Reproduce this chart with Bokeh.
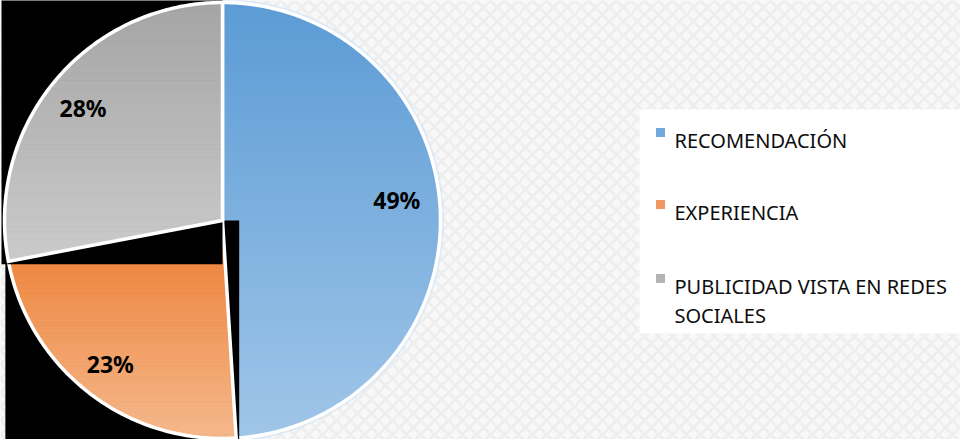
import numpy as np
from bokeh.plotting import figure
from bokeh.models import Range1d
from bokeh.core.properties import value
from bokeh.embed import file_html
from bokeh.resources import INLINE

# ---- data ----
categories = ["RECOMENDACIÓN", "EXPERIENCIA", "PUBLICIDAD VISTA EN REDES SOCIALES"]
percentages = [49, 23, 28]
legend_lines = [["RECOMENDACIÓN"], ["EXPERIENCIA"], ["PUBLICIDAD VISTA EN REDES", "SOCIALES"]]
color_top = ["#5b9bd5", "#ed7d31", "#a5a5a5"]
color_bottom = ["#a0c6e8", "#f5b88c", "#cbcbcb"]
legend_swatch = ["#72a8dc", "#f09660", "#b4b4b4"]

# ---- layout (pixel space of the figure, y downward) ----
W, H = 960, 439
CX, CY, R = 222, 220, 218
PAD = 3.0
label_radius = [0.80, 0.84, 0.83]
label_dy = [-15, -1, 3]

p = figure(width=W, height=H, output_backend="svg", toolbar_location=None,
           x_range=Range1d(0, W), y_range=Range1d(H, 0), min_border=0)
p.axis.visible = False
p.grid.visible = False
p.outline_line_color = None
p.background_fill_color = "#f6f6f6"
p.border_fill_color = "#f6f6f6"

# subtle textured background
p.quad(left=[0], right=[W], top=[0], bottom=[H], fill_color="#f8f8f8", line_color=None,
       hatch_pattern="x", hatch_color="#e8e8e8", hatch_scale=14, hatch_weight=3, hatch_alpha=0.6)


def hex2rgb(h):
    h = h.lstrip("#")
    return np.array([int(h[i:i + 2], 16) for i in (0, 2, 4)], dtype=float)


def rgb2hex(c):
    c = np.clip(np.round(c), 0, 255).astype(int)
    return "#%02x%02x%02x" % tuple(c)


def clip_half(poly, yv, keep_greater):
    out = []
    n = len(poly)
    for i in range(n):
        a = poly[i]
        b = poly[(i + 1) % n]
        ina = a[1] >= yv if keep_greater else a[1] <= yv
        inb = b[1] >= yv if keep_greater else b[1] <= yv
        if ina:
            out.append(a)
        if ina != inb:
            t = (yv - a[1]) / (b[1] - a[1])
            out.append((a[0] + t * (b[0] - a[0]), yv))
    return out


def wedge_poly(a0, a1):
    n = max(8, int(abs(a1 - a0) * 1.5))
    angs = np.radians(np.linspace(a0, a1, n))
    arc = [(CX + R * np.cos(a), CY - R * np.sin(a)) for a in angs]
    return [(CX, CY)] + arc, arc


# compute slice angles (start at top, clockwise)
slices = []
start = 90.0
for v in percentages:
    end = start - v / 100.0 * 360.0
    slices.append((start, end))
    start = end

# faint glow around the blue slice
g_poly, _ = wedge_poly(slices[0][0], slices[0][1])
p.patches(xs=[[q[0] for q in g_poly]], ys=[[q[1] for q in g_poly]], fill_color=None,
          line_color="#cfe3f5", line_width=7, line_alpha=0.6)

for i in [0, 1, 2]:
    a0, a1 = slices[i]
    poly, arc = wedge_poly(a0, a1)
    xs = [q[0] for q in poly]
    ys = [q[1] for q in poly]
    if i > 0:
        # rectangular dark backdrop behind slice (bounding box artifact)
        ax = [q[0] for q in arc]
        ay = [q[1] for q in arc]
        lo_x, hi_x = min(ax + [CX]), max(ax + [CX])
        lo_y, hi_y = min(ay + [CY]), max(ay + [CY])
        l = lo_x - (PAD if abs(lo_x - CX) > 1e-6 else 0)
        r = hi_x + (PAD if abs(hi_x - CX) > 1e-6 else 0)
        t = lo_y - (PAD if abs(lo_y - CY) > 1e-6 else 0)
        b = hi_y + (PAD if abs(hi_y - CY) > 1e-6 else 0)
        p.quad(left=[l], right=[r], top=[t], bottom=[b], fill_color="#000000", line_color=None)
    # gradient bands
    ymin, ymax = min(ys), max(ys)
    ct, cb = hex2rgb(color_top[i]), hex2rgb(color_bottom[i])
    nb = 60
    edges = np.linspace(ymin, ymax, nb + 1)
    bx, by, bc = [], [], []
    for k in range(nb):
        part = clip_half(poly, edges[k], True)
        if len(part) < 3:
            continue
        part = clip_half(part, edges[k + 1], False)
        if len(part) < 3:
            continue
        bx.append([q[0] for q in part])
        by.append([q[1] for q in part])
        f = (k + 0.5) / nb
        bc.append(rgb2hex(ct + (cb - ct) * f))
    p.patches(xs=bx, ys=by, fill_color=bc, line_color=bc, line_width=1)
    # white outline
    p.patches(xs=[xs], ys=[ys], fill_color=None, line_color="white", line_width=3.5,
              line_join="miter")

# percentage labels
lab_x, lab_y, lab_t = [], [], []
for i, (a0, a1) in enumerate(slices):
    mid = np.radians((a0 + a1) / 2.0)
    rr = label_radius[i] * R
    lab_x.append(CX + rr * np.cos(mid))
    lab_y.append(CY - rr * np.sin(mid) + label_dy[i])
    lab_t.append("%d%%" % percentages[i])
p.text(x=lab_x, y=lab_y, text=lab_t, text_font=value("Noto Sans"), text_font_style="bold",
       text_font_size="23px", text_color="#000000", text_align="center", text_baseline="middle")

# legend box
LX0, LY0, LX1, LY1 = 639, 109, 960, 333
p.quad(left=[LX0], right=[LX1], top=[LY0], bottom=[LY1], fill_color="white", line_color=None)
base_first = [140, 212, 286]
line_gap = 29
sw_x, sw_y, tx, ty, tt = [], [], [], [], []
for i, lines in enumerate(legend_lines):
    sw_x.append(660)
    sw_y.append(base_first[i] - 8)
    for j, ln in enumerate(lines):
        tx.append(674)
        ty.append(base_first[i] + j * line_gap)
        tt.append(ln)
p.scatter(x=sw_x, y=sw_y, marker="square", size=9, fill_color=legend_swatch, line_color=None)
p.text(x=tx, y=ty, text=tt, text_font=value("Noto Sans"), text_font_size="20px",
       text_color="#0d0d0d", text_align="left", text_baseline="alphabetic")

open("out.html", "w").write(file_html(p, INLINE))
